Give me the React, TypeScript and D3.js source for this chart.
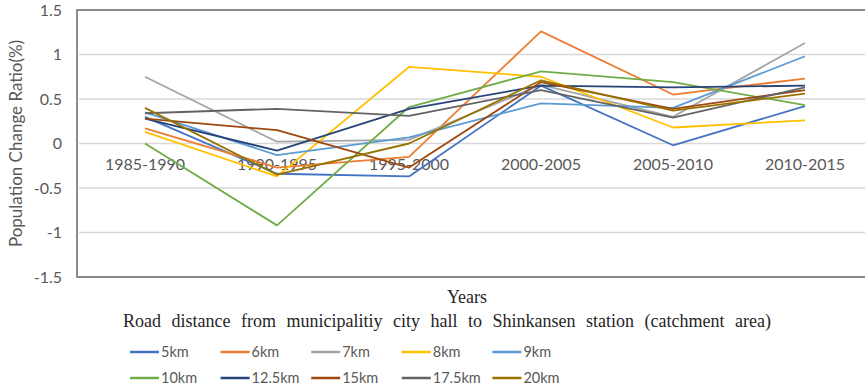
import React from "react";
import * as d3 from "d3";

const categories = ["1985-1990", "1990-1995", "1995-2000", "2000-2005", "2005-2010", "2010-2015"];
const yTicks = [-1.5, -1, -0.5, 0, 0.5, 1, 1.5];
const seriesNames = ["5km", "6km", "7km", "8km", "9km", "10km", "12.5km", "15km", "17.5km", "20km"];
const seriesColors = ["#4472C4", "#ED7D31", "#A5A5A5", "#FFC000", "#5B9BD5", "#70AD47", "#264478", "#9E480E", "#636363", "#997300"];

const v5km = [0.30, -0.34, -0.37, 0.65, -0.02, 0.42];
const v6km = [0.17, -0.27, -0.15, 1.26, 0.55, 0.73];
const v7km = [0.75, 0.02, 0.04, 0.66, 0.30, 1.13];
const v8km = [0.13, -0.37, 0.86, 0.75, 0.18, 0.26];
const v9km = [0.35, -0.13, 0.07, 0.45, 0.40, 0.98];
const v10km = [0.0, -0.92, 0.41, 0.81, 0.69, 0.43];
const v12_5km = [0.28, -0.08, 0.39, 0.65, 0.63, 0.65];
const v15km = [0.28, 0.15, -0.27, 0.69, 0.39, 0.60];
const v17_5km = [0.34, 0.39, 0.31, 0.60, 0.29, 0.63];
const v20km = [0.40, -0.35, 0.0, 0.71, 0.37, 0.56];

const seriesValues = [v5km, v6km, v7km, v8km, v9km, v10km, v12_5km, v15km, v17_5km, v20km];

const W = 865;
const H = 389;
const plotLeft = 79;
const plotRight = 871;
const plotTop = 10;
const plotBottom = 277;

export default function App() {
  const x = d3.scaleBand<string>().domain(categories).range([plotLeft, plotRight]);
  const y = d3.scaleLinear().domain([-1.5, 1.5]).range([plotBottom, plotTop]);
  const line = d3
    .line<number>()
    .x((_, i) => (x(categories[i]) as number) + x.bandwidth() / 2)
    .y((d) => y(d));

  const sans = "Lato, 'Open Sans', sans-serif";
  const serif = "'Liberation Serif', 'DejaVu Serif', serif";
  const textColor = "#595959";

  return (
    <svg
      width={W}
      height={H}
      style={{ position: "absolute", left: 0, top: 0, background: "#fff" }}
    >
      <rect x={0} y={0} width={W} height={H} fill="#fff" />
      {/* gridlines */}
      {yTicks.map((t) => (
        <line
          key={"g" + t}
          x1={plotLeft}
          x2={plotRight}
          y1={y(t)}
          y2={y(t)}
          stroke="#D9D9D9"
          strokeWidth={1.3}
        />
      ))}
      {/* plot frame */}
      <rect
        x={plotLeft - 2}
        y={plotTop}
        width={plotRight - plotLeft + 4}
        height={plotBottom - plotTop}
        fill="none"
        stroke="#808080"
        strokeWidth={1.8}
      />
      {/* y tick labels */}
      {yTicks.map((t) => (
        <text
          key={"yt" + t}
          x={62}
          y={y(t)}
          dy="0.35em"
          textAnchor="end"
          fontFamily={sans}
          fontSize={16}
          fill={textColor}
        >
          {String(t)}
        </text>
      ))}
      {/* category labels */}
      {categories.map((c) => (
        <text
          key={"c" + c}
          x={(x(c) as number) + x.bandwidth() / 2}
          y={y(0) + 21}
          dy="0.35em"
          textAnchor="middle"
          fontFamily={sans}
          fontSize={16}
          fill={textColor}
        >
          {c}
        </text>
      ))}
      {/* series lines */}
      {seriesValues.map((vals, i) => (
        <path
          key={"s" + i}
          d={line(vals) || ""}
          fill="none"
          stroke={seriesColors[i]}
          strokeWidth={1.8}
          strokeLinejoin="round"
        />
      ))}
      {/* y axis title */}
      <text
        transform={`translate(16, ${y(0)}) rotate(-90)`}
        textAnchor="middle"
        dy="0.35em"
        fontFamily={sans}
        fontSize={17}
        fill={textColor}
      >
        Population Change Ratio(%)
      </text>
      {/* x axis titles */}
      <text x={467} y={303} textAnchor="middle" fontFamily={serif} fontSize={18} fill="#262626">
        Years
      </text>
      <text
        x={447}
        y={327}
        textAnchor="middle"
        fontFamily={serif}
        fontSize={18}
        fill="#262626"
        wordSpacing={6}
      >
        Road distance from municipalitiy city hall to Shinkansen station (catchment area)
      </text>
      {/* legend */}
      {seriesNames.map((n, i) => {
        const row = Math.floor(i / 5);
        const col = i % 5;
        const lx = 130 + col * 90.6;
        const ly = 352 + row * 26;
        return (
          <g key={"l" + n}>
            <line x1={lx} x2={lx + 29} y1={ly} y2={ly} stroke={seriesColors[i]} strokeWidth={2.5} />
            <text
              x={lx + 31}
              y={ly}
              dy="0.35em"
              fontFamily={sans}
              fontSize={14.5}
              fill={textColor}
            >
              {n}
            </text>
          </g>
        );
      })}
    </svg>
  );
}
